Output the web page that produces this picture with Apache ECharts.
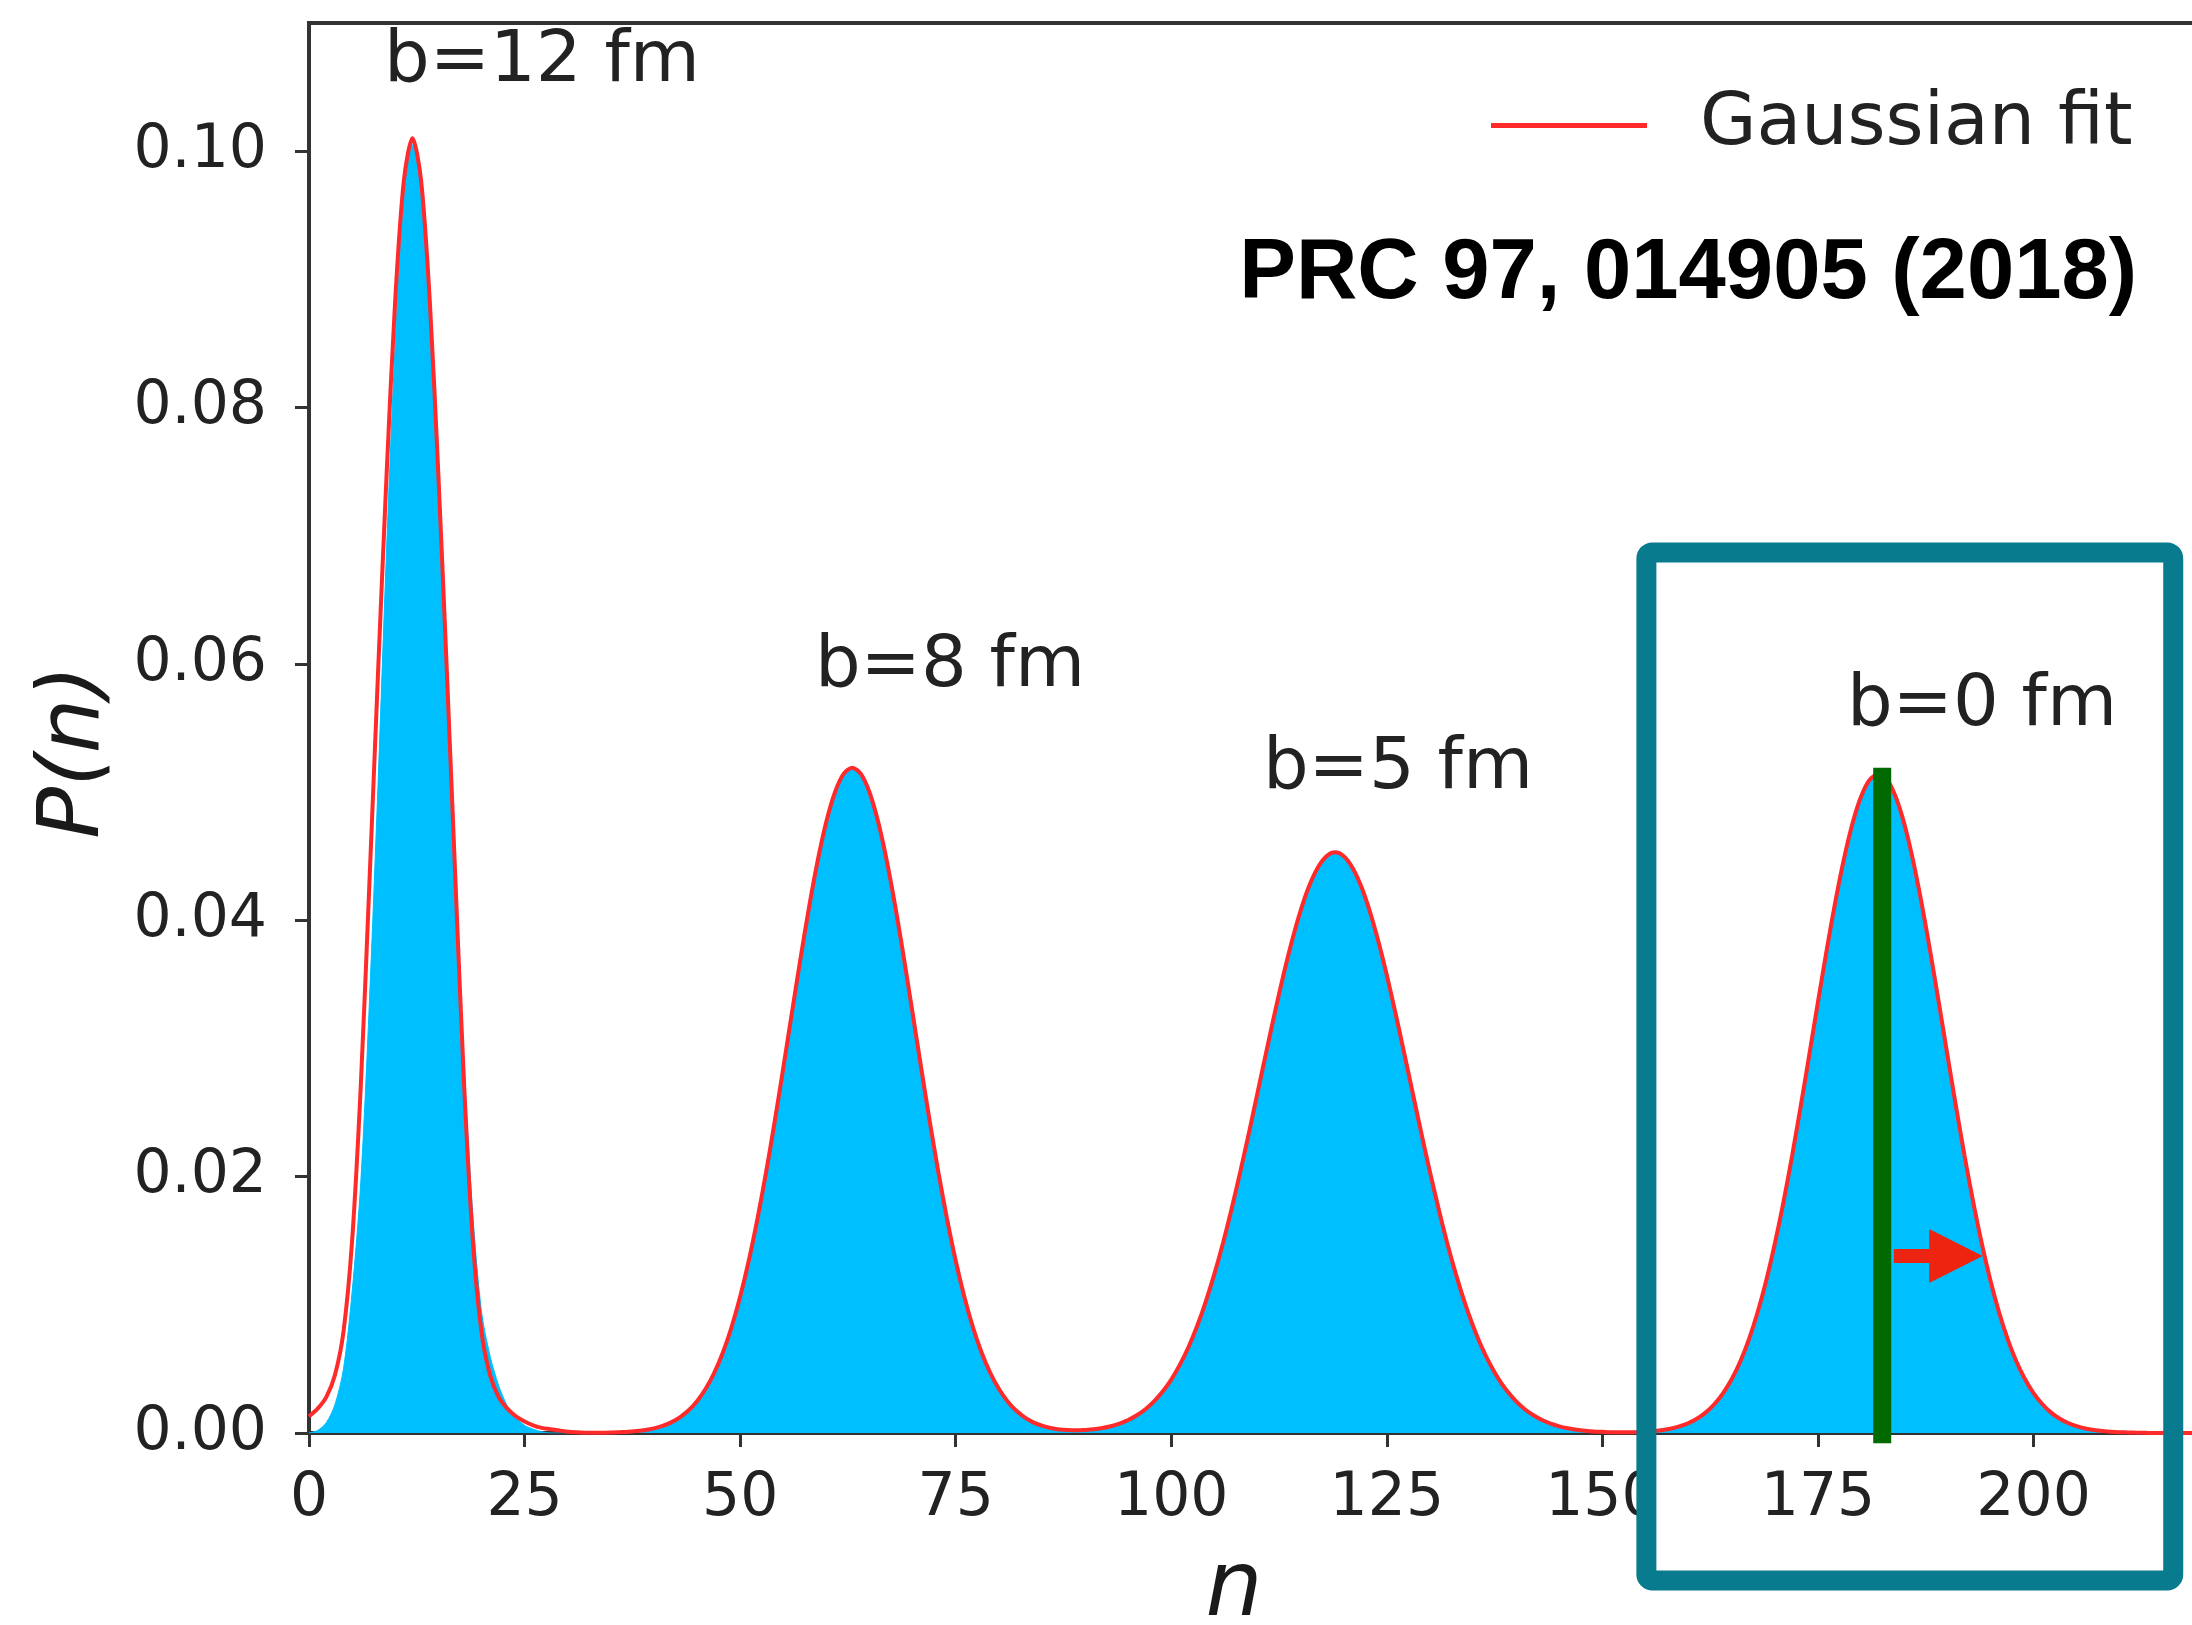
<!DOCTYPE html>
<html>
<head>
<meta charset="utf-8">
<title>P(n) distributions</title>
<script src="https://cdn.jsdelivr.net/npm/echarts@6/dist/echarts.min.js"></script>
<style>
  html, body { margin: 0; padding: 0; background: #ffffff; }
  #chart { width: 2192px; height: 1625px; }
</style>
</head>
<body>
<div id="chart"></div>
<script>
// Histogram of P(n), one value per bin n = 0 … 220
const histP = [
  0, 0.0002, 0.0008, 0.0022, 0.0050, 0.0110, 0.0195, 0.0335, 0.0505, 0.0690,
  0.0850, 0.0960, 0.1005, 0.0975, 0.0885, 0.0750, 0.0595, 0.0435, 0.0285, 0.0170,
  0.0095, 0.0060, 0.0037, 0.0021, 0.0012, 0.0006, 0.0003, 0.0001, 0, 0,
  0, 0, 0, 0, 0, 0, 0, 0, 0.0001, 0.0002,
  0.0003, 0.0005, 0.0008, 0.0012, 0.0017, 0.0025, 0.0034, 0.0047, 0.0062, 0.0083,
  0.0106, 0.0135, 0.0166, 0.0204, 0.0242, 0.0285, 0.0327, 0.0371, 0.0410, 0.0447,
  0.0476, 0.0500, 0.0513, 0.0518, 0.0515, 0.0499, 0.0478, 0.0446, 0.0411, 0.0369,
  0.0328, 0.0284, 0.0243, 0.0203, 0.0167, 0.0134, 0.0107, 0.0082, 0.0063, 0.0047,
  0.0034, 0.0025, 0.0017, 0.0012, 0.0008, 0.0005, 0.0004, 0.0003, 0.0002, 0.0002,
  0.0002, 0.0003, 0.0004, 0.0005, 0.0007, 0.0010, 0.0014, 0.0018, 0.0025, 0.0032,
  0.0042, 0.0053, 0.0067, 0.0084, 0.0102, 0.0124, 0.0149, 0.0175, 0.0203, 0.0235,
  0.0265, 0.0297, 0.0327, 0.0358, 0.0383, 0.0408, 0.0426, 0.0442, 0.0449, 0.0453,
  0.0450, 0.0440, 0.0428, 0.0407, 0.0385, 0.0356, 0.0328, 0.0296, 0.0266, 0.0233,
  0.0204, 0.0175, 0.0148, 0.0124, 0.0103, 0.0083, 0.0067, 0.0053, 0.0042, 0.0032,
  0.0025, 0.0018, 0.0014, 0.0010, 0.0007, 0.0005, 0.0004, 0.0003, 0.0002, 0.0001,
  0.0001, 0.0001, 0, 0, 0.0001, 0.0001, 0.0001, 0.0002, 0.0003, 0.0005,
  0.0008, 0.0011, 0.0016, 0.0023, 0.0031, 0.0042, 0.0056, 0.0073, 0.0094, 0.0119,
  0.0148, 0.0180, 0.0217, 0.0254, 0.0296, 0.0335, 0.0377, 0.0413, 0.0448, 0.0474,
  0.0497, 0.0508, 0.0514, 0.0510, 0.0495, 0.0476, 0.0446, 0.0415, 0.0375, 0.0337,
  0.0294, 0.0256, 0.0215, 0.0181, 0.0147, 0.0120, 0.0093, 0.0074, 0.0055, 0.0042,
  0.0031, 0.0022, 0.0016, 0.0011, 0.0008, 0.0005, 0.0003, 0.0002, 0.0001, 0.0001,
  0, 0, 0, 0, 0, 0, 0, 0, 0, 0, 0
];

// Gaussian fit curve, sampled at the same n = 0 … 220
const fitP = [
  0.0013, 0.0019, 0.0028, 0.0045, 0.0079, 0.0150, 0.0270, 0.0428, 0.0592, 0.0748,
  0.0884, 0.0977, 0.1010, 0.0977, 0.0884, 0.0748, 0.0592, 0.0428, 0.0270, 0.0150,
  0.0079, 0.0045, 0.0028, 0.0019, 0.0013, 0.0009, 0.0006, 0.0004, 0.0003, 0.0002,
  0.0001, 0.00005, 0.00002, 0.00001, 0.00002, 0.00003, 0.00006, 0.00009, 0.00015, 0.00023,
  0.00036, 0.00055, 0.00083, 0.00122, 0.00175, 0.00248, 0.00345, 0.0047, 0.00628, 0.00825,
  0.01063, 0.01344, 0.01668, 0.02031, 0.02427, 0.02847, 0.03277, 0.03702, 0.04105, 0.04467,
  0.0477, 0.04999, 0.05142, 0.0519, 0.05142, 0.04999, 0.0477, 0.04467, 0.04105, 0.03702,
  0.03277, 0.02847, 0.02427, 0.02031, 0.01668, 0.01344, 0.01063, 0.00825, 0.00628, 0.0047,
  0.00345, 0.00248, 0.00175, 0.00122, 0.00083, 0.00057, 0.00039, 0.00028, 0.00023, 0.00021,
  0.00024, 0.00029, 0.00039, 0.00053, 0.00073, 0.00101, 0.00138, 0.00185, 0.00246, 0.00323,
  0.00417, 0.00533, 0.00671, 0.00835, 0.01025, 0.01241, 0.01483, 0.0175, 0.02037, 0.0234,
  0.02653, 0.02968, 0.03277, 0.03571, 0.0384, 0.04076, 0.04269, 0.04412, 0.045, 0.0453,
  0.045, 0.04412, 0.04269, 0.04076, 0.0384, 0.03571, 0.03277, 0.02968, 0.02653, 0.0234,
  0.02037, 0.0175, 0.01483, 0.01241, 0.01025, 0.00835, 0.00671, 0.00533, 0.00417, 0.00323,
  0.00246, 0.00185, 0.00138, 0.00101, 0.00073, 0.00052, 0.00037, 0.00026, 0.00018, 0.00012,
  0.00009, 0.00006, 0.00005, 0.00006, 0.00006, 0.00009, 0.00015, 0.00023, 0.00035, 0.00053,
  0.00078, 0.00113, 0.00161, 0.00226, 0.00311, 0.00421, 0.0056, 0.00733, 0.00942, 0.0119,
  0.01478, 0.01803, 0.02163, 0.0255, 0.02954, 0.03363, 0.03764, 0.0414, 0.04475, 0.04755,
  0.04965, 0.05096, 0.0514, 0.05096, 0.04965, 0.04755, 0.04475, 0.0414, 0.03764, 0.03363,
  0.02954, 0.0255, 0.02163, 0.01803, 0.01478, 0.0119, 0.00942, 0.00733, 0.0056, 0.00421,
  0.00311, 0.00226, 0.00161, 0.00113, 0.00078, 0.00053, 0.00035, 0.00023, 0.00015, 0.00009,
  0.00006, 0.00004, 0.00002, 0.00001, 0, 0, 0, 0, 0, 0, 0
];

// Axis ticks
const xTicks = [0, 25, 50, 75, 100, 125, 150, 175, 200];
const yTicks = [0, 0.02, 0.04, 0.06, 0.08, 0.10];

// Impact-parameter labels of the four peaks
const peakLabels = ['b=12 fm', 'b=8 fm', 'b=5 fm', 'b=0 fm'];
const referenceText = 'PRC 97, 014905 (2018)';

// Mean and height of the central (b=0 fm) peak, marked by the green bar
const centralMean = 182.45;
const centralTop = 0.0519;

// ---------- layout / styling ----------
const TXT = '#222222';
const AXIS = '#333333';
const FONT = 'DejaVu Sans';
const labelPos = [[542, 62], [950, 667], [1398, 769], [1982, 706]];

const chart = echarts.init(document.getElementById('chart'), null, { renderer: 'canvas' });
const pairs = arr => arr.map((v, n) => [n, v]);

chart.setOption({
  animation: false,
  backgroundColor: '#ffffff',
  grid: {
    left: 309, top: 23, right: -14, bottom: 192,
    outerBoundsMode: 'none', containLabel: false,
    show: true, borderColor: AXIS, borderWidth: 4
  },
  legend: {
    data: ['Gaussian fit'],
    left: 1486, top: 84,
    icon: 'rect', itemWidth: 156, itemHeight: 5,
    itemStyle: { color: '#ff2a2a' },
    textStyle: { fontFamily: FONT, fontSize: 73, color: TXT, padding: [0, 0, 0, 48] }
  },
  xAxis: {
    type: 'value', min: 0, max: 220, interval: 25,
    name: 'n', nameLocation: 'middle', nameGap: 114,
    nameTextStyle: { fontFamily: FONT, fontStyle: 'italic', fontSize: 90, color: '#1a1a1a', padding: [0, 47, 0, 0] },
    axisLine: { show: true, onZero: false, lineStyle: { color: AXIS, width: 4 } },
    axisTick: { show: true, length: 14, customValues: xTicks, lineStyle: { color: AXIS, width: 3 } },
    axisLabel: { customValues: xTicks, margin: 36, fontFamily: FONT, fontSize: 60, color: TXT },
    splitLine: { show: false }
  },
  yAxis: {
    type: 'value', min: 0, max: 0.11,
    name: 'P(n)', nameLocation: 'middle', nameGap: 190, nameRotate: 90,
    nameTextStyle: { fontFamily: FONT, fontStyle: 'italic', fontSize: 86, color: '#1a1a1a', padding: [0, 48, 0, 0] },
    axisLine: { show: true, onZero: false, lineStyle: { color: AXIS, width: 4 } },
    axisTick: { show: true, length: 14, customValues: yTicks, lineStyle: { color: AXIS, width: 3 } },
    axisLabel: { customValues: yTicks, margin: 42, fontFamily: FONT, fontSize: 60, color: TXT,
                 formatter: v => v.toFixed(2) },
    splitLine: { show: false }
  },
  series: [
    {
      name: 'P(n)', type: 'line', data: pairs(histP),
      symbol: 'none', smooth: 0.3, z: 2,
      lineStyle: { width: 1, color: '#00bfff' },
      areaStyle: { color: '#00bfff', opacity: 1 }
    },
    {
      name: 'Gaussian fit', type: 'line', data: pairs(fitP),
      symbol: 'none', smooth: 0.3, z: 3, color: '#ff2a2a',
      lineStyle: { width: 4, color: '#ff2a2a' }
    }
  ]
});

// ---------- annotations ----------
const px = (n, p) => chart.convertToPixel({ gridIndex: 0 }, [n, p]);

const boxTL = px(155.1, 0.0687);
const boxBR = px(216.2, -0.0115);
const barTop = px(centralMean, centralTop);
const barBot = px(centralMean, -0.0008);
const arrowY = px(0, 0.0138)[1];
const arrowX0 = px(183.8, 0)[0];
const arrowXh = px(187.9, 0)[0];
const arrowX1 = px(194.1, 0)[0];

const graphics = peakLabels.map((t, i) => ({
  type: 'text', x: labelPos[i][0], y: labelPos[i][1], z: 50,
  style: { text: t, fontFamily: FONT, fontSize: 72, fill: TXT, align: 'center', verticalAlign: 'middle' }
}));

graphics.push({
  type: 'text', x: 2137, y: 275, z: 50,
  style: { text: referenceText, fontFamily: 'Liberation Sans', fontWeight: 'bold', fontSize: 85,
           fill: '#000000', align: 'right', verticalAlign: 'middle' }
});

graphics.push({
  type: 'rect', z: 60,
  shape: { x: barTop[0] - 9, y: barTop[1], width: 18, height: barBot[1] - barTop[1] },
  style: { fill: '#006a00' }
});

graphics.push({
  type: 'polygon', z: 60,
  shape: { points: [
    [arrowX0, arrowY - 7], [arrowXh, arrowY - 7], [arrowXh, arrowY - 27],
    [arrowX1, arrowY], [arrowXh, arrowY + 27], [arrowXh, arrowY + 7], [arrowX0, arrowY + 7]
  ] },
  style: { fill: '#ec2410' }
});

graphics.push({
  type: 'rect', z: 70,
  shape: { x: boxTL[0], y: boxTL[1], width: boxBR[0] - boxTL[0], height: boxBR[1] - boxTL[1], r: 6 },
  style: { fill: 'none', stroke: '#087b8e', lineWidth: 20 }
});

chart.setOption({ graphic: graphics });
</script>
</body>
</html>
